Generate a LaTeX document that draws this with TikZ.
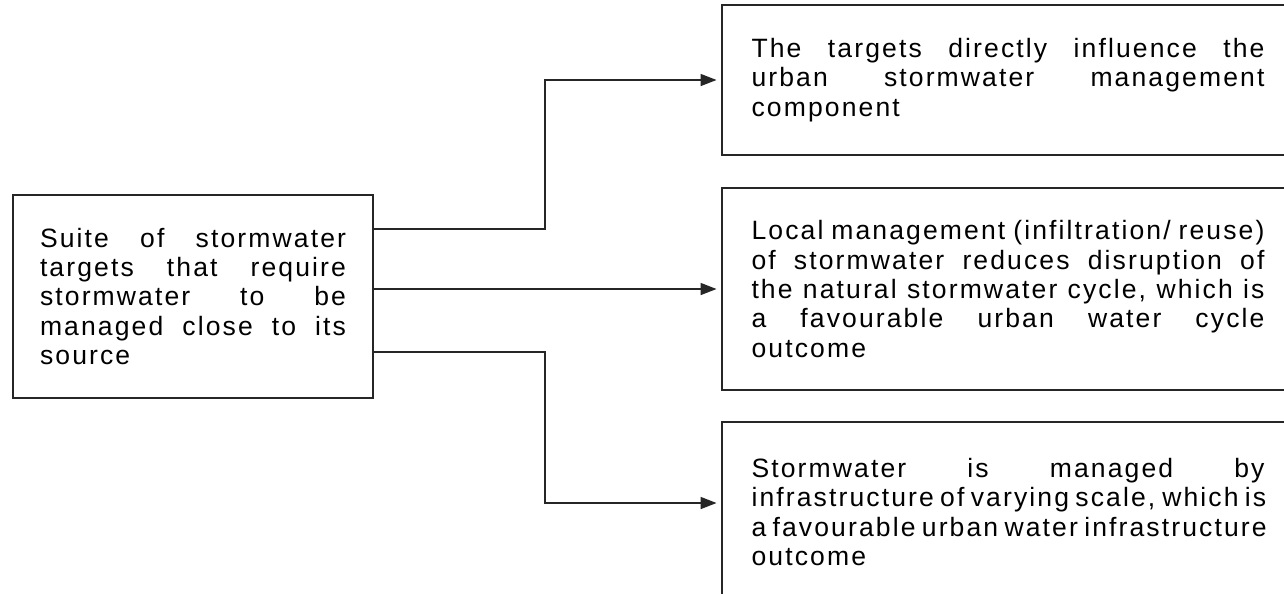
\documentclass[tikz,border=0pt]{standalone}
\usepackage{fontspec}
\setmainfont{Liberation Sans}[LetterSpace=8]
\usetikzlibrary{arrows.meta}
\usetikzlibrary{positioning}
\hyphenpenalty=10000
\tolerance=10000

\begin{document}
\begin{tikzpicture}[x=0.75pt, y=-0.75pt, >={Triangle[length=12pt,width=9pt]},
  box/.style={draw=black!85, line width=1.2pt, inner sep=0pt, align=justify,
    font=\fontsize{19.9}{22.1}\selectfont},
  link/.style={draw=black!85, line width=1.2pt, shorten >=3.5pt}]
  % ===== Frame =====
  \useasboundingbox (0,0) rectangle (1284,593);
  \clip (0,0) rectangle (1284,593);
  \fill[white] (0,0) rectangle (1284,593);

  % Source box
  \node[box, minimum width=270pt, minimum height=152.25pt, text width=229.5pt]
    (suite) at (193,296.5)
    {Suite of stormwater\linebreak targets that require\linebreak stormwater to be\linebreak managed close to its\linebreak source};

  % Outcome boxes
  \node[box, minimum width=429pt, minimum height=112.5pt, text width=384.75pt]
    (target) at (1008,80)
    {The targets directly influence the\linebreak urban stormwater management\linebreak component};
  \node[box, minimum width=429pt, minimum height=151.5pt, text width=384.75pt]
    (cycle) at (1008,289)
    {Local management (infiltration/ reuse)\linebreak of stormwater reduces disruption of\linebreak the natural stormwater cycle, which is\linebreak a favourable urban water cycle\linebreak outcome};
  \node[box, minimum width=429pt, minimum height=135pt, text width=384.75pt]
    (infra) at (1008,512)
    {Stormwater is managed by\linebreak infrastructure of varying scale, which is\linebreak a favourable urban water infrastructure\linebreak outcome};

  % Connectors
  \coordinate (upper) at (545,229);
  \coordinate (lower) at (545,352);
  \coordinate (lowend) at (545,503);
  \draw[link, ->] (suite.east |- upper) -- (upper) |- (target.west);
  \draw[link, ->] (suite.east |- cycle.west) -- (cycle.west);
  \draw[link, ->] (suite.east |- lower) -- (lower) -- (lowend) -- (lowend -| infra.west);
\end{tikzpicture}
\end{document}
